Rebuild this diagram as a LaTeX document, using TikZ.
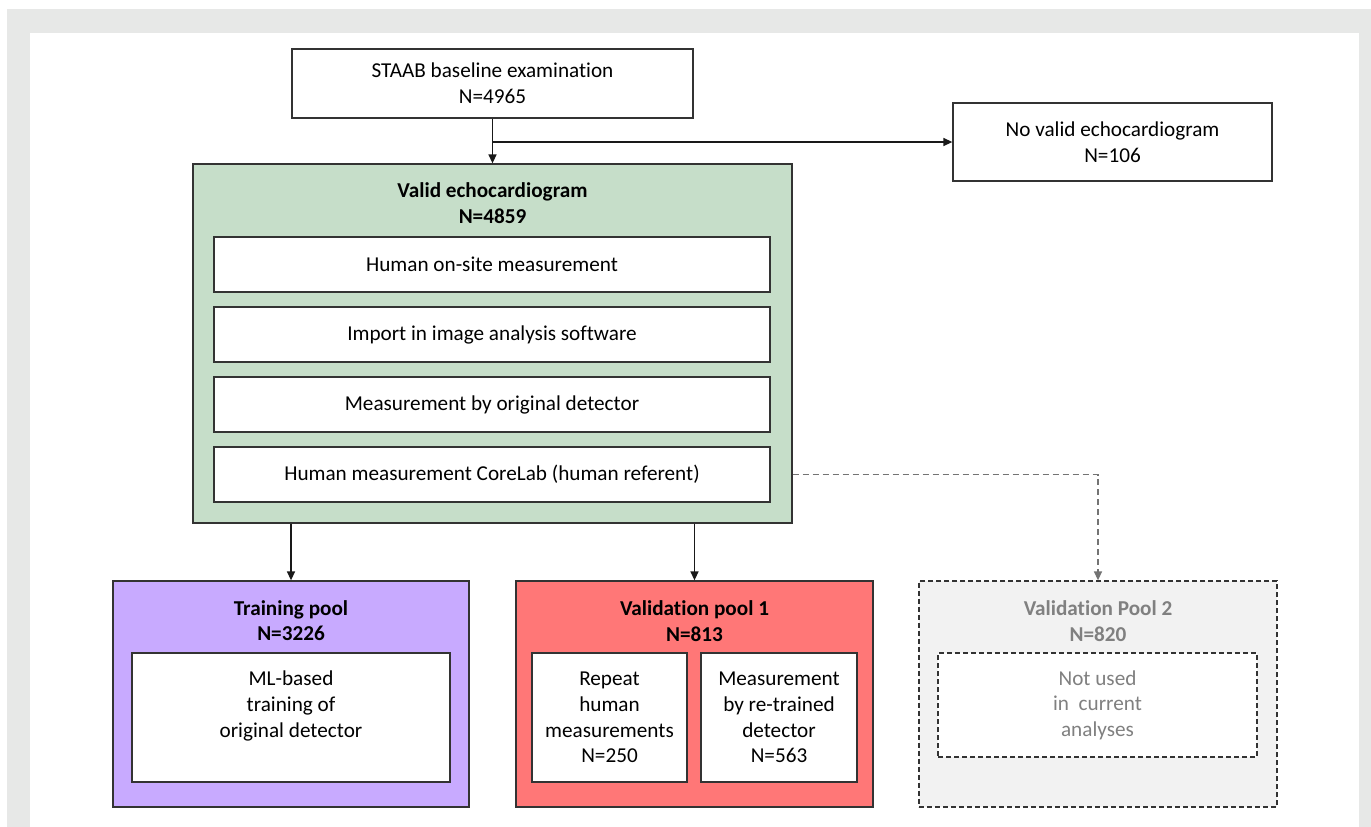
\documentclass[tikz,border=0pt]{standalone}
\usepackage{fontspec}
\setmainfont{Carlito}[Ligatures=NoCommon]
\usetikzlibrary{arrows.meta, positioning}
\definecolor{framegrey}{RGB}{231,232,231}
\definecolor{validgreen}{RGB}{198,222,201}
\definecolor{trainpurple}{RGB}{200,170,255}
\definecolor{valred}{RGB}{255,119,119}
\definecolor{unusedgrey}{RGB}{242,242,242}
\definecolor{unusedtext}{RGB}{128,128,128}
\newcommand{\boxfont}{\fontsize{21.2}{25.6}\selectfont}
\tikzset{
  box/.style={draw=black!80, line width=1.3pt, fill=white, align=center,
              inner sep=0pt, font=\boxfont},
  pool/.style={box, anchor=center},
  title/.style={align=center, inner sep=0pt, font=\boxfont\bfseries},
  arrow/.style={-{Triangle[length=9pt, width=8pt]}, line width=1.4pt, black!90},
  unused/.style={box, dashed, dash pattern=on 5pt off 3pt, text=unusedtext},
}

\begin{document}
\begin{tikzpicture}[x=1pt, y=-1pt]
\useasboundingbox (0,0) rectangle (1371,827);

% --- frame ---
\fill[framegrey] (7,9) rectangle (1371,827);
\fill[white] (30,33) rectangle (1359,827);

% --- baseline and exclusion ---
\node[box, minimum width=401, minimum height=69] (staab) at (492.5, 83.5)
    {STAAB baseline examination\\N=4965};
\node[box, minimum width=319, minimum height=78] (novalid) at (1112.5, 142)
    {No valid echocardiogram\\N=106};

% --- valid echocardiogram group ---
\node[pool, fill=validgreen, minimum width=599, minimum height=359] (valid) at (492.5, 343.5) {};
\node[title] (validtitle) at (492.5, 203) {Valid echocardiogram\\N=4859};

\node[box, minimum width=556, minimum height=55] (onsite) at (492, 264.5) {Human on-site measurement};
\node[box, minimum width=556, minimum height=55] (import) at (492, 334.5) {Import in image analysis software};
\node[box, minimum width=556, minimum height=55] (original) at (492, 404.5) {Measurement by original detector};
\node[box, minimum width=556, minimum height=55] (corelab) at (492, 474.5) {Human measurement CoreLab (human referent)};

% --- training pool ---
\node[pool, fill=trainpurple, minimum width=356, minimum height=226] (training) at (291, 694) {};
\node[title] (traintitle) at (291, 620.5) {Training pool\\N=3226};
\node[box, minimum width=318, minimum height=129] (mltrain) at (291, 717.5) {};
\node[align=center, font=\boxfont, inner sep=0pt] (mltext) at (291, 706)
    {ML-based\\training of\\original detector};

% --- validation pool 1 ---
\node[pool, fill=valred, minimum width=357, minimum height=226] (valone) at (694.5, 694) {};
\node[title] (valonetitle) at (694.5, 621) {Validation pool 1\\N=813};
\node[box, minimum width=155, minimum height=129] (repeat) at (609.5, 717.5)
    {Repeat\\human\\measurements\\N=250};
\node[box, minimum width=156, minimum height=129] (retrained) at (779, 717.5)
    {Measurement\\by re-trained\\detector\\N=563};

% --- validation pool 2 (not used) ---
\node[unused, fill=unusedgrey, minimum width=358, minimum height=226] (valtwo) at (1098, 694) {};
\node[title, text=unusedtext] (valtwotitle) at (1098, 621) {Validation Pool 2\\N=820};
\node[unused, minimum width=319, minimum height=104] (notused) at (1097.5, 705)
    {Not used\\in\ \ current\\analyses};

% --- connectors ---
\coordinate (split) at (492.5, 142);
\draw[arrow] (staab.south) -- (valid.north);
\draw[arrow] (split) -- (novalid.west);
\draw[arrow] (training.north |- valid.south) -- (training.north);
\draw[arrow] (valone.north |- valid.south) -- (valone.north);
\draw[arrow, black!55, dashed, dash pattern=on 6pt off 4pt] (valid.east |- corelab.east) -| (valtwo.north);

\end{tikzpicture}
\end{document}
